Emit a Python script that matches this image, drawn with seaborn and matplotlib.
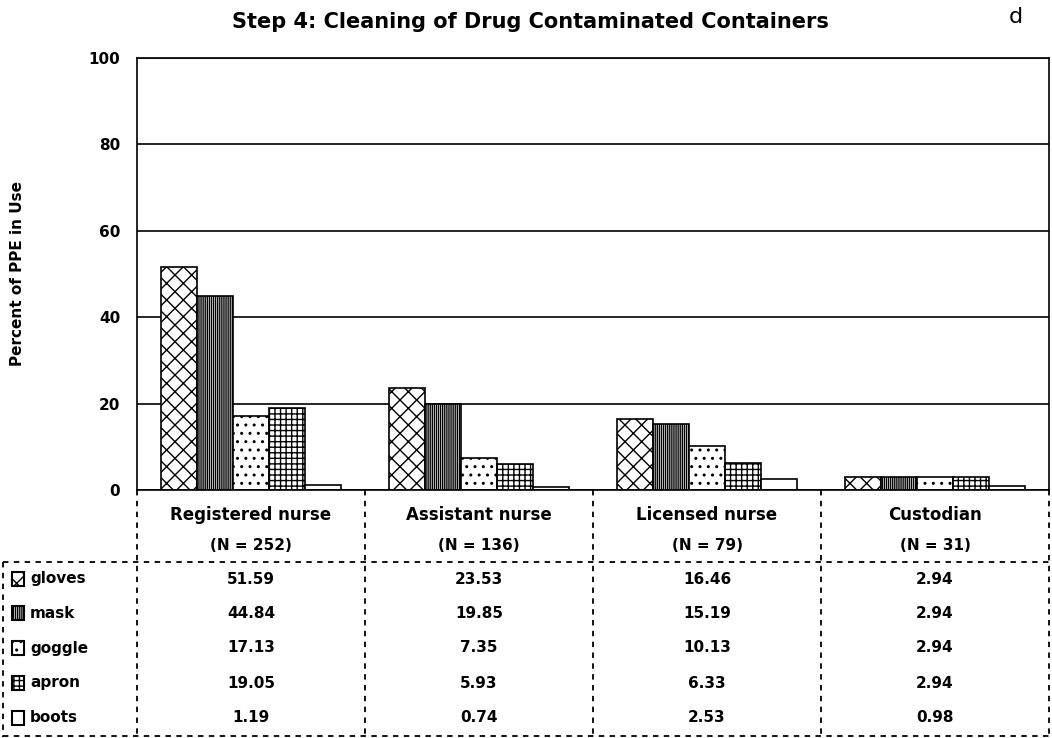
import numpy as np
import pandas as pd
import matplotlib
matplotlib.use("Agg")
import matplotlib.pyplot as plt
import matplotlib.transforms as mtransforms
from matplotlib.patches import Rectangle
import seaborn as sns

# ------------------ Data ------------------
groups = ["Registered nurse", "Assistant nurse", "Licensed nurse", "Custodian"]
group_n = ["(N = 252)", "(N = 136)", "(N = 79)", "(N = 31)"]
ppe = ["gloves", "mask", "goggle", "apron", "boots"]

gloves = [51.59, 23.53, 16.46, 2.94]
mask = [44.84, 19.85, 15.19, 2.94]
goggle = [17.13, 7.35, 10.13, 2.94]
apron = [19.05, 5.93, 6.33, 2.94]
boots = [1.19, 0.74, 2.53, 0.98]

values = {"gloves": gloves, "mask": mask, "goggle": goggle, "apron": apron, "boots": boots}
hatches = {"gloves": "xx", "mask": "||||||||", "goggle": "..", "apron": "+++", "boots": ""}

rows = []
for p in ppe:
    for g, v in zip(groups, values[p]):
        rows.append({"Group": g, "PPE": p, "Percent": v})
df = pd.DataFrame(rows)

# ------------------ Plot ------------------
sns.set_style("white")
plt.rcParams["font.family"] = ["DejaVu Sans"]
plt.rcParams["hatch.linewidth"] = 1.0
plt.rcParams["text.color"] = "black"
plt.rcParams["axes.labelcolor"] = "black"
plt.rcParams["xtick.color"] = "black"
plt.rcParams["ytick.color"] = "black"

W, H = 1052, 738
fig = plt.figure(figsize=(W / 100, H / 100), dpi=100)
ax = fig.add_axes([137 / W, 1 - 490 / H, (1049 - 137) / W, (490 - 58) / H])

sns.barplot(data=df, x="Group", y="Percent", hue="PPE", hue_order=ppe,
            order=groups, width=0.79, ax=ax, legend=False)

for cont, p in zip(ax.containers, ppe):
    for bar in cont:
        bar.set_facecolor("white")
        bar.set_edgecolor("black")
        bar.set_linewidth(1.2)
        bar.set_hatch(hatches[p])

ax.set_ylim(0, 100)
ax.set_xlim(-0.5, 3.5)
ax.set_yticks([0, 20, 40, 60, 80, 100])
ax.set_yticklabels(["0", "20", "40", "60", "80", "100"], fontweight="bold", fontsize=11)
ax.yaxis.grid(True, color="black", linewidth=1.2)
ax.set_axisbelow(True)
ax.tick_params(axis="y", direction="inout", length=8, width=1.2, color="black", pad=8)
ax.set_xticks([0.5, 1.5, 2.5])
ax.set_xticklabels([])
ax.tick_params(axis="x", direction="out", length=6, width=1.2, color="black")
ax.set_xlabel("")
ax.set_ylabel("Percent of PPE in Use", fontweight="bold", fontsize=11, labelpad=46)
for s in ax.spines.values():
    s.set_color("black")
    s.set_linewidth(1.2)

fig.text(530 / W, 1 - 22 / H, "Step 4: Cleaning of Drug Contaminated Containers",
         ha="center", va="center", fontsize=15, fontweight="bold")
fig.text(1016 / W, 1 - 17 / H, "d", ha="center", va="center", fontsize=16)

# ------------------ Data table under the chart ------------------
tab = fig.add_axes([0, 0, 1, 1])
tab.set_xlim(0, W)
tab.set_ylim(H, 0)
tab.axis("off")
tab.patch.set_alpha(0)

# x from the bar axis (category positions), y in pixel rows of the table axes
trans = mtransforms.blended_transform_factory(ax.transData, tab.transData)

dash = dict(color="black", linewidth=1.3, linestyle=(0, (3, 3)))
for xb in [-0.5, 0.5, 1.5, 2.5, 3.5]:
    tab.plot([xb, xb], [490, 737], transform=trans, **dash)
tab.plot([3, 3], [562, 737], **dash)
tab.plot([3, 1049], [562, 562], **dash)
tab.plot([3, 1049], [736, 736], **dash)

for i, (g, n) in enumerate(zip(groups, group_n)):
    tab.text(i, 515, g, transform=trans, ha="center", va="center",
             fontsize=12, fontweight="bold")
    tab.text(i, 545, n, transform=trans, ha="center", va="center",
             fontsize=11, fontweight="bold")

row_y = [579, 613, 648, 683, 718]
for p, y in zip(ppe, row_y):
    tab.add_patch(Rectangle((12, y - 7), 12, 14, facecolor="white", edgecolor="black",
                            linewidth=1.5, hatch=hatches[p]))
    tab.text(30, y, p, ha="left", va="center", fontsize=11, fontweight="bold")
    for i, v in enumerate(values[p]):
        tab.text(i, y, f"{v:.2f}", transform=trans, ha="center", va="center",
                 fontsize=11, fontweight="bold")

fig.savefig("out.png", dpi=100)
